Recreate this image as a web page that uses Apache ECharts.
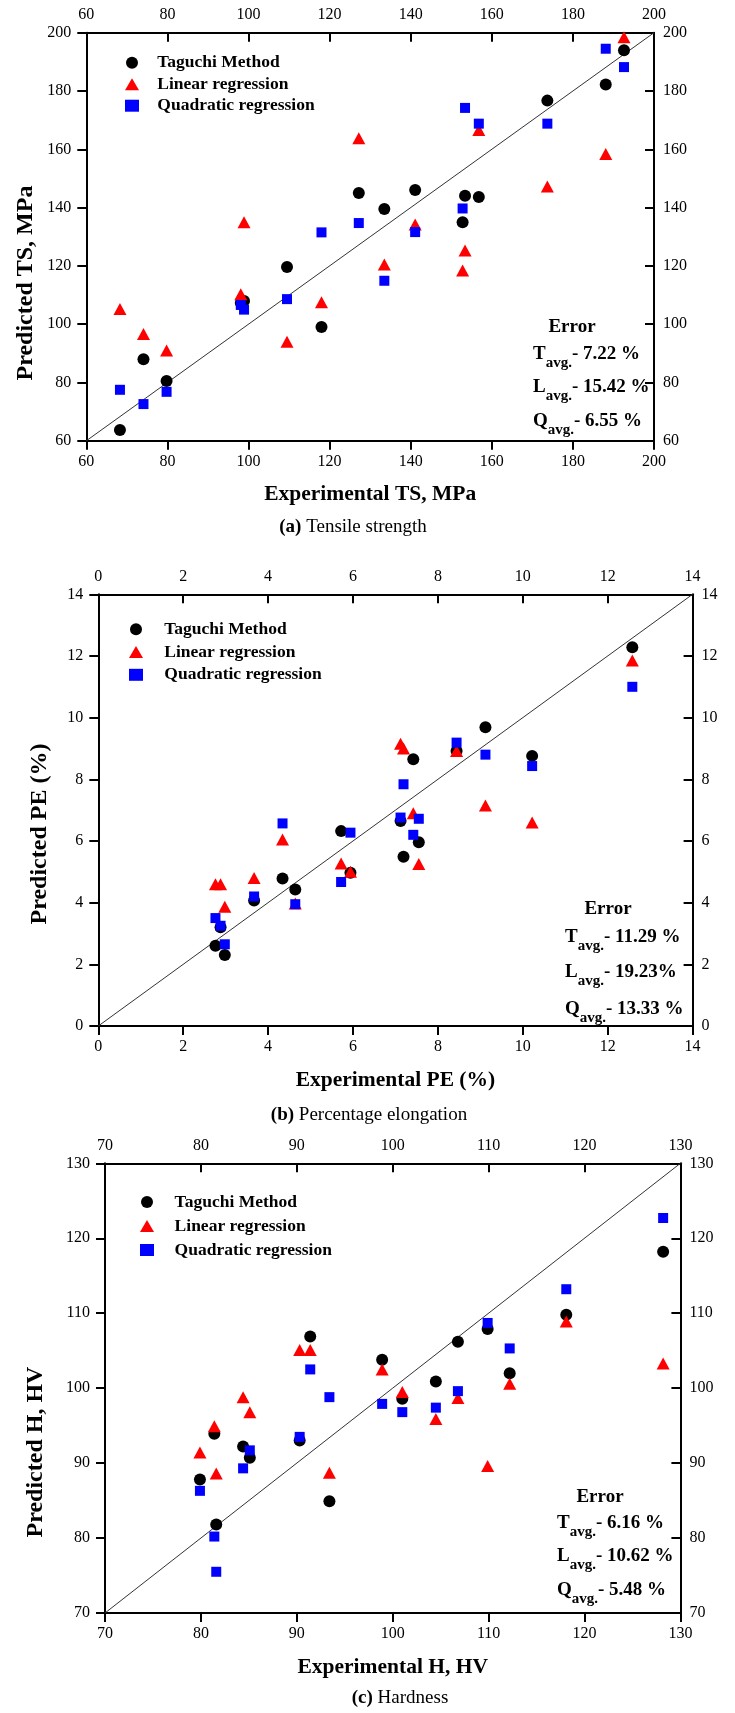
<!DOCTYPE html>
<html><head><meta charset="utf-8">
<script src="https://cdn.jsdelivr.net/npm/echarts@6/dist/echarts.min.js"></script>
<style>html,body{margin:0;padding:0;background:#fff}#c{width:735px;height:1713px}</style>
</head><body><div id="c"></div>
<script>
// ---------- DATA ----------
const seriesNames = ['Taguchi Method', 'Linear regression', 'Quadratic regression'];

// (a) Tensile strength
const tsTicks = [60, 80, 100, 120, 140, 160, 180, 200];
const tsExp      = [68.3, 74.1, 79.8, 98.1, 98.9, 109.5, 118.0, 127.2, 133.5, 141.1, 152.8, 153.4, 156.8, 173.7, 188.1, 192.6];
const tsTaguchi  = [63.7, 88.0, 80.5, 107.3, 108.0, 119.6, 99.0, 145.0, 139.5, 146.0, 135.0, 144.1, 143.6, 176.7, 182.2, 194.0];
const tsLinear   = [105.2, 96.6, 91.0, 110.3, 135.0, 94.0, 107.5, 163.8, 120.5, 134.2, 118.4, 125.3, 166.6, 147.2, 158.4, 198.4];
const tsQuad     = [77.5, 72.6, 76.8, 106.6, 105.0, 108.6, 131.5, 134.7, 114.9, 131.6, 139.7, 174.2, 168.8, 168.8, 194.5, 188.2];
const tsErrors   = ['7.22 %', '15.42 %', '6.55 %'];

// (b) Percentage elongation
const peTicks = [0, 2, 4, 6, 8, 10, 12, 14];
const peExp      = [2.76, 2.88, 2.98, 3.67, 4.34, 4.64, 5.72, 5.94, 7.12, 7.19, 7.42, 7.55, 8.44, 9.12, 10.22, 12.58];
const peTaguchi  = [2.6, 3.2, 2.3, 4.07, 4.78, 4.43, 6.32, 4.97, 6.65, 5.49, 8.65, 5.96, 8.92, 9.69, 8.76, 12.28];
const peLinear   = [4.6, 4.6, 3.87, 4.8, 6.05, 3.97, 5.27, 5.0, 9.15, 9.0, 6.9, 5.25, 8.92, 7.15, 6.6, 11.85];
const peQuad     = [3.5, 3.25, 2.65, 4.2, 6.57, 3.95, 4.67, 6.27, 6.76, 7.84, 6.2, 6.72, 9.19, 8.8, 8.43, 11.0];
const peErrors   = ['11.29 %', '19.23%', '13.33 %'];

// (c) Hardness
const hTicks = [70, 80, 90, 100, 110, 120, 130];
const hExp       = [79.9, 81.4, 81.6, 84.4, 85.1, 90.3, 91.4, 93.4, 98.9, 101.0, 104.5, 106.8, 109.9, 112.2, 118.1, 128.2];
const hTaguchi   = [87.8, 93.9, 81.8, 92.2, 90.7, 93.0, 106.9, 84.9, 103.8, 98.6, 100.9, 106.2, 107.9, 102.0, 109.8, 118.2];
const hLinear    = [91.4, 94.9, 88.6, 98.8, 96.8, 105.1, 105.1, 88.7, 102.5, 99.5, 95.9, 98.7, 89.6, 100.6, 108.9, 103.3];
const hQuad      = [86.3, 80.2, 75.5, 89.3, 91.7, 93.5, 102.5, 98.8, 97.9, 96.8, 97.4, 99.6, 108.7, 105.3, 113.2, 122.7];
const hErrors    = ['6.16 %', '10.62 %', '5.48 %'];

// ---------- LAYOUT / STYLE ----------
const FONT = "'Liberation Serif','Times New Roman',serif";
const panels = [
  { exp: tsExp, vals: [tsTaguchi, tsLinear, tsQuad], ticks: tsTicks, errors: tsErrors,
    xName: 'Experimental TS, MPa', yName: 'Predicted TS, MPa', tag: '(a)', caption: 'Tensile strength',
    grid: { left: 86.3, top: 32.7, width: 567.7, height: 408.1 },
    legend: { left: 120, top: 47.7, gap: 1.5, pad: 13.3 },
    capX: 353, capY: 527, yTitle: { x: 26, y: 283 },
    err: { cx: 572, cy: 327, lx: 533, ly: [355, 388, 422] } },
  { exp: peExp, vals: [peTaguchi, peLinear, peQuad], ticks: peTicks, errors: peErrors,
    xName: 'Experimental PE (%)', yName: 'Predicted PE (%)', tag: '(b)', caption: 'Percentage elongation',
    grid: { left: 98.3, top: 594.3, width: 594.3, height: 431.7 },
    legend: { left: 124, top: 614.2, gap: 2.8, pad: 16.3 },
    capX: 369, capY: 1115, yTitle: { x: 40, y: 834 },
    err: { cx: 608, cy: 909, lx: 565, ly: [938, 973, 1010] } },
  { exp: hExp, vals: [hTaguchi, hLinear, hQuad], ticks: hTicks, errors: hErrors,
    xName: 'Experimental H, HV', yName: 'Predicted H, HV', tag: '(c)', caption: 'Hardness',
    grid: { left: 105, top: 1163.3, width: 575.4, height: 449.7 },
    legend: { left: 135, top: 1187, gap: 4, pad: 15.6 },
    capX: 400, capY: 1698, yTitle: { x: 36, y: 1452 },
    err: { cx: 600, cy: 1497, lx: 557, ly: [1524, 1557, 1591] } }
];
const symbols = ['circle', 'triangle', 'rect'];
const symbolSizes = [12, [13, 12], 10];
const colors = ['#000000', '#ff0000', '#0000ff'];

const grids = [], xAxes = [], yAxes = [], series = [], legends = [], graphics = [];

function axis(ticks, gridIndex, position, main, extra) {
  return Object.assign({
    type: 'value', gridIndex, position,
    min: ticks[0], max: ticks[ticks.length - 1], interval: ticks[1] - ticks[0],
    axisLine: { show: true, onZero: false, lineStyle: { color: '#000', width: 2 } },
    axisTick: { show: true, inside: !main, length: 9, lineStyle: { color: '#000', width: 2 } },
    axisLabel: { show: true, color: '#000', fontFamily: FONT, fontSize: 16 },
    splitLine: { show: false }
  }, extra);
}

panels.forEach((p, i) => {
  grids.push(Object.assign({ containLabel: false }, p.grid));
  const t = p.ticks;
  xAxes.push(axis(t, i, 'bottom', true, {
    name: p.xName, nameLocation: 'middle', nameGap: 43,
    nameTextStyle: { fontFamily: FONT, fontSize: 21.5, fontWeight: 'bold', color: '#000' },
    axisLabel: { show: true, color: '#000', fontFamily: FONT, fontSize: 16, margin: 13 }
  }));
  xAxes.push(axis(t, i, 'top', false, {
    axisLabel: { show: true, color: '#000', fontFamily: FONT, fontSize: 16, margin: 10 }
  }));
  yAxes.push(axis(t, i, 'left', true, {
    axisLabel: { show: true, color: '#000', fontFamily: FONT, fontSize: 16, margin: 15 }
  }));
  yAxes.push(axis(t, i, 'right', false, {
    axisLabel: { show: true, color: '#000', fontFamily: FONT, fontSize: 16, margin: 9 }
  }));

  const lo = t[0], hi = t[t.length - 1];
  series.push({
    type: 'line', xAxisIndex: 2 * i, yAxisIndex: 2 * i, data: [[lo, lo], [hi, hi]],
    symbol: 'none', silent: true, z: 1, lineStyle: { color: '#333', width: 1 }
  });
  p.vals.forEach((v, k) => {
    series.push({
      type: 'scatter', name: seriesNames[k], xAxisIndex: 2 * i, yAxisIndex: 2 * i,
      symbol: symbols[k], symbolSize: symbolSizes[k], z: 2 + k,
      itemStyle: { color: colors[k], opacity: 1 },
      data: p.exp.map((x, j) => [x, v[j]])
    });
  });

  legends.push({
    data: seriesNames, orient: 'vertical', left: p.legend.left, top: p.legend.top,
    itemWidth: 14, itemHeight: 12, itemGap: p.legend.gap, selectedMode: false,
    textStyle: { fontFamily: FONT, fontSize: 17.5, fontWeight: 'bold', color: '#000', lineHeight: 20, padding: [0, 0, 0, p.legend.pad] }
  });

  // y-axis title (rotated)
  graphics.push({
    type: 'text', x: p.yTitle.x, y: p.yTitle.y, rotation: Math.PI / 2,
    style: { text: p.yName, align: 'center', verticalAlign: 'middle', fill: '#000', fontFamily: FONT, fontSize: 24, fontWeight: 'bold' }
  });
  graphics.push({
    type: 'text', x: p.capX, y: p.capY,
    style: {
      text: '{b|' + p.tag + '} {n|' + p.caption + '}', align: 'center', verticalAlign: 'middle',
      fill: '#000', fontFamily: FONT, fontSize: 19,
      rich: {
        b: { fontFamily: FONT, fontSize: 19, fontWeight: 'bold', fill: '#000' },
        n: { fontFamily: FONT, fontSize: 19, fill: '#000' }
      }
    }
  });
  graphics.push({
    type: 'text', x: p.err.cx, y: p.err.cy,
    style: { text: 'Error', align: 'center', verticalAlign: 'middle', fill: '#000', fontFamily: FONT, fontSize: 19, fontWeight: 'bold' }
  });
  ['T', 'L', 'Q'].forEach((letter, k) => {
    graphics.push({
      type: 'text', x: p.err.lx, y: p.err.ly[k] + 3,
      style: {
        text: '{m|' + letter + '}{s|avg.}{m|- ' + p.errors[k] + '}',
        align: 'left', verticalAlign: 'middle', fill: '#000', fontFamily: FONT, fontSize: 19, fontWeight: 'bold',
        rich: {
          m: { fontFamily: FONT, fontSize: 19, fontWeight: 'bold', fill: '#000', padding: [0, 0, 7, 0], verticalAlign: 'bottom' },
          s: { fontFamily: FONT, fontSize: 15, fontWeight: 'bold', fill: '#000', verticalAlign: 'bottom' }
        }
      }
    });
  });
});

const chart = echarts.init(document.getElementById('c'), null, { renderer: 'canvas', width: 735, height: 1713 });
chart.setOption({
  backgroundColor: '#fff',
  animation: false,
  grid: grids, xAxis: xAxes, yAxis: yAxes, series, legend: legends, graphic: graphics
});
</script></body></html>
